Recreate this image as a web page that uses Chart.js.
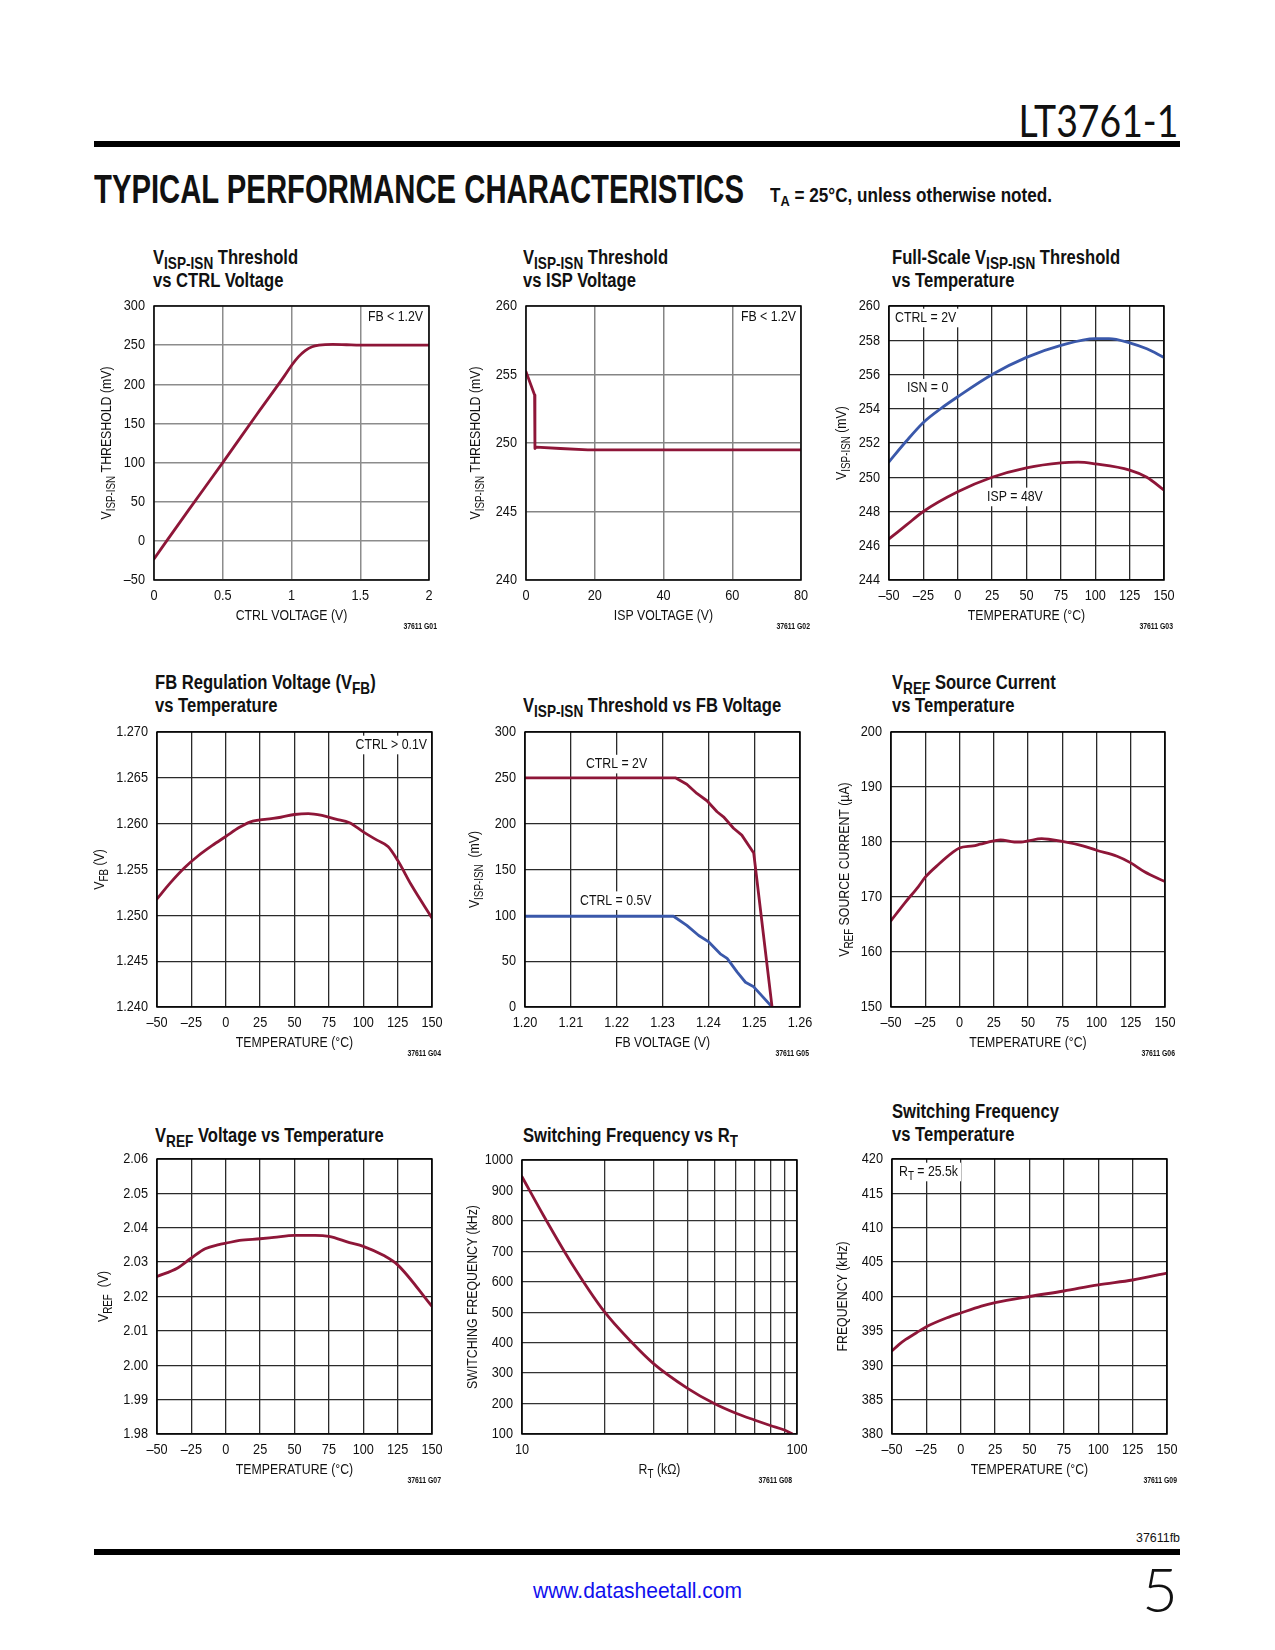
<!DOCTYPE html>
<html><head><meta charset="utf-8">
<script src="https://cdn.jsdelivr.net/npm/chart.js@4.4.1/dist/chart.umd.min.js"></script>
<style>
body{margin:0;background:#fff;width:1275px;height:1650px;position:relative;overflow:hidden;font-family:"Liberation Sans",Arial,sans-serif;color:#111;}
.abs{position:absolute;white-space:nowrap;}
.ct{font-weight:bold;font-size:20px;line-height:23px;transform:scaleX(0.83);transform-origin:0 0;}
sub{font-size:75%;vertical-align:-0.28em;line-height:0;}
.ct sub{font-size:82%;}
.bar{position:absolute;left:94px;width:1086px;height:6px;background:#000;}
canvas{position:absolute;}
</style></head><body>
<div class="abs" id="lt" style="right:97px;top:98px;font-family:Lato,'DejaVu Sans',sans-serif;font-weight:400;font-size:44px;line-height:44px;">LT3761-1</div>
<div class="bar" style="top:141px;"></div>
<div class="abs" id="head" style="left:94px;top:169px;font-weight:bold;font-size:40px;line-height:40px;">TYPICAL PERFORMANCE CHARACTERISTICS</div>
<div class="abs" id="ta" style="left:770px;top:185px;font-weight:bold;font-size:20px;line-height:20px;">T<sub>A</sub> = 25°C, unless otherwise noted.</div>

<div class="abs ct" style="left:153px;top:246px;">V<sub>ISP-ISN</sub> Threshold<br>vs CTRL Voltage</div>
<div class="abs ct" style="left:523px;top:246px;">V<sub>ISP-ISN</sub> Threshold<br>vs ISP Voltage</div>
<div class="abs ct" style="left:892px;top:246px;">Full-Scale V<sub>ISP-ISN</sub> Threshold<br>vs Temperature</div>
<div class="abs ct" style="left:155px;top:671px;">FB Regulation Voltage (V<sub>FB</sub>)<br>vs Temperature</div>
<div class="abs ct" style="left:523px;top:694px;">V<sub>ISP-ISN</sub> Threshold vs FB Voltage</div>
<div class="abs ct" style="left:892px;top:671px;">V<sub>REF</sub> Source Current<br>vs Temperature</div>
<div class="abs ct" style="left:155px;top:1124px;">V<sub>REF</sub> Voltage vs Temperature</div>
<div class="abs ct" style="left:523px;top:1124px;">Switching Frequency vs R<sub>T</sub></div>
<div class="abs ct" style="left:892px;top:1100px;">Switching Frequency<br>vs Temperature</div>

<div class="abs" id="fb" style="right:95px;top:1531px;font-size:13px;line-height:13px;">37611fb</div>
<div class="bar" style="top:1549px;"></div>
<div class="abs" id="url" style="left:533px;top:1580px;font-size:22px;line-height:22px;color:#1010ee;">www.datasheetall.com</div>
<div class="abs" style="right:97px;top:1557px;font-family:Lato,'DejaVu Sans',sans-serif;font-weight:300;font-size:62px;line-height:62px;">5</div>

<script>
// ---------- DATA ----------
// G01: VISP-ISN threshold vs CTRL voltage
const ctrlVoltage      = [0, 0.25, 0.5, 0.75, 0.95, 1.0, 1.05, 1.1, 1.15, 1.2, 1.3, 1.4, 1.5, 1.75, 2.0];
const thresholdVsCtrl  = [-23, 39, 100, 162, 211, 224, 235, 243, 248, 250, 251, 250.5, 250, 250, 250];
const g01XTicks = [0, 0.5, 1, 1.5, 2];
const g01YTicks = [-50, 0, 50, 100, 150, 200, 250, 300];
// G02: VISP-ISN threshold vs ISP voltage
const ispVoltage       = [0, 2.5, 2.6, 3, 10, 18, 40, 80];
const thresholdVsIsp   = [255.2, 253.5, 249.6, 249.7, 249.6, 249.5, 249.5, 249.5];
const g02XTicks = [0, 20, 40, 60, 80];
const g02YTicks = [240, 245, 250, 255, 260];
// G03: full-scale threshold vs temperature
const isn0Temp   = [-50, -37.5, -25, -12.5, 0, 25, 50, 75, 100, 110, 125, 137.5, 150];
const isn0Thr    = [250.9, 252.1, 253.2, 254.0, 254.7, 256.0, 257.0, 257.7, 258.1, 258.1, 257.85, 257.5, 257.0];
const isp48Temp  = [-50, -37.5, -25, 0, 25, 50, 75, 87.5, 100, 125, 137.5, 150];
const isp48Thr   = [246.4, 247.2, 248.0, 249.15, 250.0, 250.55, 250.84, 250.88, 250.78, 250.42, 250.0, 249.25];
const tempTicks  = [-50, -25, 0, 25, 50, 75, 100, 125, 150];
const g03YTicks  = [244, 246, 248, 250, 252, 254, 256, 258, 260];
// G04: FB regulation voltage vs temperature
const fbTemp = [-50, -40, -30, -20, -10, 0, 10, 18, 30, 40, 50, 60, 70, 80, 90, 100, 110, 118, 125, 135, 150];
const fbVolt = [1.2518, 1.2536, 1.2552, 1.2565, 1.2576, 1.2586, 1.2596, 1.2602, 1.2605, 1.2607, 1.2610, 1.2611, 1.2609, 1.2605, 1.2601, 1.2591, 1.2582, 1.2575, 1.2560, 1.2533, 1.2497];
const g04YTicks = [1.240, 1.245, 1.250, 1.255, 1.260, 1.265, 1.270];
// G05: threshold vs FB voltage
const fbVoltCtrl2  = [1.20, 1.2328, 1.2353, 1.2375, 1.2397, 1.2419, 1.2433, 1.2455, 1.2473, 1.2499, 1.2539];
const thrCtrl2     = [250, 250, 243, 233, 225, 213, 207.5, 195, 187.5, 168, 0];
const fbVoltCtrl05 = [1.20, 1.2324, 1.2353, 1.2379, 1.2401, 1.2426, 1.2441, 1.2463, 1.2481, 1.2499, 1.2539];
const thrCtrl05    = [99, 99, 89, 78, 71, 58, 53, 38, 27, 22, 0];
const g05XTicks = [1.20, 1.21, 1.22, 1.23, 1.24, 1.25, 1.26];
const g05YTicks = [0, 50, 100, 150, 200, 250, 300];
// G06: VREF source current vs temperature
const vrefCurTemp = [-50, -40, -30, -25, -15, -5, 0, 10, 15, 25, 30, 40, 45, 50, 60, 65, 75, 90, 100, 115, 125, 135, 150];
const vrefCurrent = [165.7, 168.9, 171.9, 173.6, 176.0, 178.1, 178.9, 179.3, 179.6, 180.2, 180.4, 180.0, 180.0, 180.2, 180.6, 180.5, 180.1, 179.3, 178.5, 177.4, 176.2, 174.6, 172.8];
const g06YTicks = [150, 160, 170, 180, 190, 200];
// G07: VREF voltage vs temperature
const vrefTemp = [-50, -35, -25, -15, -5, 0, 10, 25, 35, 50, 65, 75, 90, 100, 115, 125, 150];
const vrefVolt = [2.0258, 2.0283, 2.0312, 2.0339, 2.0351, 2.0355, 2.0363, 2.0368, 2.0372, 2.0378, 2.0378, 2.0375, 2.0357, 2.0346, 2.0319, 2.0292, 2.0171];
const g07YTicks = [1.98, 1.99, 2.00, 2.01, 2.02, 2.03, 2.04, 2.05, 2.06];
// G08: switching frequency vs RT
const rtKohm    = [10, 12, 15, 20, 25, 30, 40, 50, 60, 70, 80, 90, 96];
const fswVsRt   = [945, 816, 667, 500, 402, 332, 250, 200, 168, 146, 128, 113, 101];
const g08XTicks = [10, 20, 30, 40, 50, 60, 70, 80, 90, 100];
const g08XLabels = [10, 100];
const g08YTicks = [100, 200, 300, 400, 500, 600, 700, 800, 900, 1000];
// G09: switching frequency vs temperature
const fswTemp = [-50, -45, -40, -30, -25, -10, 0, 15, 25, 50, 75, 100, 125, 150];
const fswVsT  = [392.1, 393.0, 393.75, 395.0, 395.6, 396.9, 397.6, 398.6, 399.1, 400.0, 400.8, 401.7, 402.4, 403.4];
const g09YTicks = [380, 385, 390, 395, 400, 405, 410, 415, 420];

// ---------- STYLE ----------
const FONT = '"Liberation Sans",Arial,sans-serif';
const SX = 0.82;                 // narrow face emulation
const RED = 'rgb(142,22,56)';
const BLUE = 'rgb(58,88,170)';
const TEXT = '#111';

function pts(xs, ys){ return xs.map((x,i)=>({x:x, y:ys[i]})); }
const neg = v => v < 0 ? '\u2013' + Math.abs(v) : String(v);

function condense(ctx){
  const orig = ctx.fillText.bind(ctx);
  ctx.fillText = function(t, x, y){ ctx.save(); ctx.translate(x, y); ctx.scale(SX, 1); orig(t, 0, 0); ctx.restore(); };
}
function segFont(s, size){ return (s[1] ? size*0.8 : size) + 'px ' + FONT; }
function rich(ctx, segs, x, y, align, size, bg){
  let w = 0;
  segs.forEach(s => { ctx.font = segFont(s, size); w += ctx.measureText(s[0]).width * SX; });
  let x0 = align === 'center' ? x - w/2 : (align === 'right' ? x - w : x);
  if (bg){ ctx.fillStyle = '#fff'; ctx.fillRect(x0 - 3, y - size*0.62, w + 6, size*1.24); }
  ctx.fillStyle = TEXT; ctx.textAlign = 'left'; ctx.textBaseline = 'middle';
  segs.forEach(s => {
    ctx.font = segFont(s, size);
    ctx.fillText(s[0], x0, s[1] ? y + size*0.28 : y);
    x0 += ctx.measureText(s[0]).width * SX;
  });
}

const deco = {
  id: 'deco',
  afterDraw(chart, args, o){
    const ctx = chart.ctx, a = chart.chartArea;
    ctx.save();
    ctx.strokeStyle = '#000'; ctx.lineWidth = 1.5;
    ctx.strokeRect(a.left, a.top, a.right - a.left, a.bottom - a.top);
    ctx.save();
    ctx.translate(a.left - o.yOff, (a.top + a.bottom)/2);
    ctx.rotate(-Math.PI/2);
    rich(ctx, o.yTitle, 0, 0, 'center', 15, false);
    ctx.restore();
    rich(ctx, o.xTitle, (a.left + a.right)/2, a.bottom + 36, 'center', 15, false);
    ctx.font = 'bold 8.4px ' + FONT; ctx.fillStyle = TEXT; ctx.textAlign = 'right'; ctx.textBaseline = 'middle';
    ctx.fillText(o.fig, a.right + o.figDx, a.bottom + 47);
    (o.notes || []).forEach(n => {
      let px, py, al = 'left';
      if (n.corner === 'tl'){ px = a.left + n.dx; py = a.top + n.dy; }
      else if (n.corner === 'tr'){ px = a.right - n.dx; py = a.top + n.dy; al = 'right'; }
      else { px = chart.scales.x.getPixelForValue(n.x); py = chart.scales.y.getPixelForValue(n.y); }
      rich(ctx, n.segs, px, py, al, 15, true);
    });
    ctx.restore();
  }
};

const PADL = 80, PADT = 12, PADR = 22, XH = 60;
function noPad(sc){ sc.paddingTop = 0; sc.paddingBottom = 0; sc.paddingLeft = 0; sc.paddingRight = 0; }
function build(s){
  const cv = document.createElement('canvas');
  const W = s.w + PADL + PADR, H = s.h + PADT + XH;
  cv.width = W; cv.height = H;
  cv.style.left = (s.l - PADL) + 'px'; cv.style.top = (s.t - PADT) + 'px';
  cv.style.width = W + 'px'; cv.style.height = H + 'px';
  document.body.appendChild(cv);
  condense(cv.getContext('2d'));
  const tickFont = {family: FONT, size: 15.5};
  new Chart(cv, {
    type: 'line',
    data: { datasets: s.sets.map(d => ({
      data: pts(d.x, d.y), borderColor: d.c, borderWidth: 2.8, pointRadius: 0,
      fill: false, tension: d.linear ? 0 : 0.4, cubicInterpolationMode: d.linear ? 'default' : 'monotone',
      borderJoinStyle: 'round', borderCapStyle: 'round'
    })) },
    options: {
      responsive: false, animation: false, devicePixelRatio: 1,
      layout: { padding: { left: 0, top: PADT, right: PADR, bottom: 0 } },
      plugins: { legend: {display: false}, tooltip: {enabled: false}, deco: s.deco },
      scales: {
        x: {
          type: s.xType || 'linear', min: s.xMin, max: s.xMax,
          afterBuildTicks: sc => { sc.ticks = s.xTicks.map(v => ({value: v})); },
          afterFit: sc => { sc.height = XH; noPad(sc); },
          grid: { color: s.grid, lineWidth: s.gw, drawTicks: false },
          border: { display: false },
          ticks: { padding: 6, color: TEXT, font: tickFont, maxRotation: 0, autoSkip: false, callback: v => s.xFmt(v) }
        },
        y: {
          type: 'linear', min: s.yMin, max: s.yMax,
          afterBuildTicks: sc => { sc.ticks = s.yTicks.map(v => ({value: v})); },
          afterFit: sc => { sc.width = PADL; noPad(sc); },
          grid: { color: s.grid, lineWidth: s.gw, drawTicks: false },
          border: { display: false },
          ticks: { padding: 9, color: TEXT, font: tickFont, autoSkip: false, callback: v => s.yFmt(v) }
        }
      }
    },
    plugins: [deco]
  });
}

const TEMP_X = [['TEMPERATURE (\u00B0C)']];
const VISP = [['V'], ['ISP-ISN', 1]];

build({ l:154, t:306, w:275, h:274, xMin:0, xMax:2, yMin:-50, yMax:300, xTicks:g01XTicks, yTicks:g01YTicks,
  xFmt: v => String(v), yFmt: neg, grid:'#8c8c8c', gw:1.5,
  sets:[{x:ctrlVoltage, y:thresholdVsCtrl, c:RED}],
  deco:{ yTitle: VISP.concat([[' THRESHOLD (mV)']]), yOff:47, xTitle:[['CTRL VOLTAGE (V)']], fig:'37611 G01', figDx:8,
    notes:[{corner:'tr', dx:6, dy:11, segs:[['FB < 1.2V']]}] } });

build({ l:526, t:306, w:275, h:274, xMin:0, xMax:80, yMin:240, yMax:260, xTicks:g02XTicks, yTicks:g02YTicks,
  xFmt: v => String(v), yFmt: v => String(v), grid:'#858585', gw:1.5,
  sets:[{x:ispVoltage, y:thresholdVsIsp, c:RED, linear:true}],
  deco:{ yTitle: VISP.concat([[' THRESHOLD (mV)']]), yOff:50, xTitle:[['ISP VOLTAGE (V)']], fig:'37611 G02', figDx:9,
    notes:[{corner:'tr', dx:5, dy:11, segs:[['FB < 1.2V']]}] } });

build({ l:889, t:306, w:275, h:274, xMin:-50, xMax:150, yMin:244, yMax:260, xTicks:tempTicks, yTicks:g03YTicks,
  xFmt: neg, yFmt: v => String(v), grid:'#2a2a2a', gw:1.3,
  sets:[{x:isn0Temp, y:isn0Thr, c:BLUE}, {x:isp48Temp, y:isp48Thr, c:RED}],
  deco:{ yTitle: VISP.concat([[' (mV)']]), yOff:47, xTitle:TEMP_X, fig:'37611 G03', figDx:9,
    notes:[{corner:'tl', dx:6, dy:12, segs:[['CTRL = 2V']]},
           {x:-37, y:255.2, segs:[['ISN = 0']]},
           {x:21.3, y:248.85, segs:[['ISP = 48V']]}] } });

build({ l:157, t:732, w:275, h:275, xMin:-50, xMax:150, yMin:1.240, yMax:1.270, xTicks:tempTicks, yTicks:g04YTicks,
  xFmt: neg, yFmt: v => v.toFixed(3), grid:'#2a2a2a', gw:1.3,
  sets:[{x:fbTemp, y:fbVolt, c:RED}],
  deco:{ yTitle:[['V'], ['FB', 1], [' (V)']], yOff:57, xTitle:TEMP_X, fig:'37611 G04', figDx:9,
    notes:[{corner:'tr', dx:5, dy:13, segs:[['CTRL > 0.1V']]}] } });

build({ l:525, t:732, w:275, h:275, xMin:1.20, xMax:1.26, yMin:0, yMax:300, xTicks:g05XTicks, yTicks:g05YTicks,
  xFmt: v => v.toFixed(2), yFmt: v => String(v), grid:'#2a2a2a', gw:1.3,
  sets:[{x:fbVoltCtrl2, y:thrCtrl2, c:RED, linear:true}, {x:fbVoltCtrl05, y:thrCtrl05, c:BLUE, linear:true}],
  deco:{ yTitle: VISP.concat([['  (mV)']]), yOff:50, xTitle:[['FB VOLTAGE (V)']], fig:'37611 G05', figDx:9,
    notes:[{x:1.2133, y:265, segs:[['CTRL = 2V']]}, {x:1.212, y:116, segs:[['CTRL = 0.5V']]}] } });

build({ l:891, t:732, w:274, h:275, xMin:-50, xMax:150, yMin:150, yMax:200, xTicks:tempTicks, yTicks:g06YTicks,
  xFmt: neg, yFmt: v => String(v), grid:'#2a2a2a', gw:1.3,
  sets:[{x:vrefCurTemp, y:vrefCurrent, c:RED}],
  deco:{ yTitle:[['V'], ['REF', 1], [' SOURCE CURRENT (\u00B5A)']], yOff:46, xTitle:TEMP_X, fig:'37611 G06', figDx:10, notes:[] } });

build({ l:157, t:1159, w:275, h:275, xMin:-50, xMax:150, yMin:1.98, yMax:2.06, xTicks:tempTicks, yTicks:g07YTicks,
  xFmt: neg, yFmt: v => v.toFixed(2), grid:'#2a2a2a', gw:1.3,
  sets:[{x:vrefTemp, y:vrefVolt, c:RED}],
  deco:{ yTitle:[['V'], ['REF', 1], ['  (V)']], yOff:53, xTitle:TEMP_X, fig:'37611 G07', figDx:9, notes:[] } });

build({ l:522, t:1160, w:275, h:274, xType:'logarithmic', xMin:10, xMax:100, yMin:100, yMax:1000, xTicks:g08XTicks, yTicks:g08YTicks,
  xFmt: v => g08XLabels.includes(v) ? String(v) : '', yFmt: v => String(v), grid:'#333', gw:1.3,
  sets:[{x:rtKohm, y:fswVsRt, c:RED}],
  deco:{ yTitle:[['SWITCHING FREQUENCY (kHz)']], yOff:49, xTitle:[['R'], ['T', 1], [' (k\u03A9)']], fig:'37611 G08', figDx:-5, notes:[] } });

build({ l:892, t:1159, w:275, h:275, xMin:-50, xMax:150, yMin:380, yMax:420, xTicks:tempTicks, yTicks:g09YTicks,
  xFmt: neg, yFmt: v => String(v), grid:'#2a2a2a', gw:1.3,
  sets:[{x:fswTemp, y:fswVsT, c:RED}],
  deco:{ yTitle:[['FREQUENCY (kHz)']], yOff:49, xTitle:TEMP_X, fig:'37611 G09', figDx:10,
    notes:[{corner:'tl', dx:7, dy:13, segs:[['R'], ['T', 1], [' = 25.5k']]}] } });

// fit header/footer texts to the widths measured in the reference
function fit(id, w, origin){
  const el = document.getElementById(id);
  const r = el.getBoundingClientRect().width;
  el.style.transformOrigin = origin || '0 0';
  el.style.transform = 'scaleX(' + (w / r) + ')';
}
fit('head', 650);
fit('ta', 282);
fit('lt', 160, '100% 0');
fit('fb', 44, '100% 0');
fit('url', 209);
</script>
</body></html>
